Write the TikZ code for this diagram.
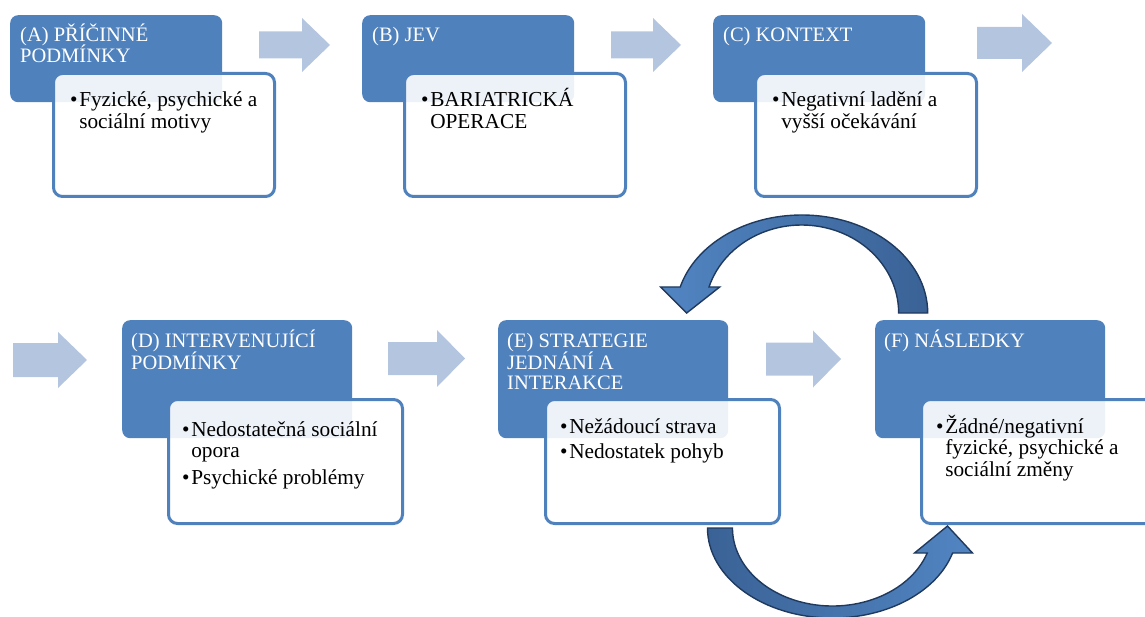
\documentclass[tikz,border=0pt]{standalone}
\usepackage{fontspec}
\setmainfont{Liberation Serif}
\usetikzlibrary{calc}

\definecolor{hdrblue}{HTML}{4F81BD}
\definecolor{flowfill}{HTML}{B4C5DF}
\definecolor{arcdark}{HTML}{3A6296}
\definecolor{arclight}{HTML}{5185C2}
\definecolor{arcline}{HTML}{1F3A5E}

% text block with fixed baselines; lines of a bullet broken by \\, bullets separated by \\[gap]
\newcommand\cardtext[1]{\begin{minipage}[t]{230pt}\lineskiplimit=-60pt\relax\raggedright #1\end{minipage}}
\newcommand\bul{\textbullet\hspace{1.6pt}}
\newcommand\ind{\hphantom{\textbullet}\hspace{1.6pt}}

% light block arrow: tail x, centre y, tip x, shaft half height, head half height, head length
\newcommand\flowarrow[6]{%
  \fill[flowfill] (#1,#2-#4) -- (#3-#6,#2-#4) -- (#3-#6,#2-#5) -- (#3,#2)
    -- (#3-#6,#2+#5) -- (#3-#6,#2+#4) -- (#1,#2+#4) -- cycle;}

\tikzset{
  hdr/.style={rectangle, rounded corners=8pt, fill=hdrblue, inner sep=0pt, anchor=north west},
  card/.style={rectangle, rounded corners=9pt, draw=hdrblue, line width=3pt,
    fill=white, fill opacity=0.9, inner sep=0pt, anchor=north west},
  tophdr/.style={hdr, minimum width=212pt, minimum height=87pt},
  topcard/.style={card, minimum width=221pt, minimum height=123pt},
  bothdr/.style={hdr, minimum width=230pt, minimum height=118pt},
  botcard/.style={card, minimum width=234pt, minimum height=124pt},
  hdrtext/.style={anchor=base west, inner sep=0pt, text=white, font=\fontsize{20.5}{21}\selectfont},
  bodytext/.style={anchor=base west, inner sep=0pt, text=black, font=\fontsize{21.3}{21.5}\selectfont},
  cyclearrow/.style={draw=arcline, line width=1.4pt, line join=miter},
}

\begin{document}
\begin{tikzpicture}[x=1pt, y=-1pt]
\useasboundingbox (0,0) rectangle (1145,617);

% ---- top row ----
\node[tophdr] (hA) at (10,15) {};
\node[topcard] (cA) at (52,72) {};
\node[tophdr] (hB) at (362,15) {};
\node[topcard] (cB) at (403,72) {};
\node[tophdr] (hC) at (713,15) {};
\node[topcard] (cC) at (754,72) {};

\node[hdrtext] (tA) at ($(hA.north west)+(10,27)$) {\cardtext{(A) PŘÍČINNÉ\\PODMÍNKY}};
\node[hdrtext] (tB) at ($(hB.north west)+(10,27)$) {\cardtext{(B) JEV}};
\node[hdrtext] (tC) at ($(hC.north west)+(10,27)$) {\cardtext{(C) KONTEXT}};

\node[bodytext] (bA) at ($(cA.north west)+(18,35)$) {\cardtext{\bul Fyzické, psychické a\\\ind sociální motivy}};
\node[bodytext] (bB) at ($(cB.north west)+(18,35)$) {\cardtext{\bul BARIATRICKÁ\\\ind OPERACE}};
\node[bodytext] (bC) at ($(cC.north west)+(18,35)$) {\cardtext{\bul Negativní ladění a\\\ind vyšší očekávání}};

\flowarrow{259}{45}{330}{13.5}{27}{28}
\flowarrow{611}{45}{681}{13.5}{27}{28}
\flowarrow{977}{43}{1052}{16}{29}{30}

% ---- bottom row ----
\flowarrow{13}{360}{87}{17}{28}{29}

\node[bothdr] (hD) at (122,320) {};
\node[botcard] (cD) at (167,398) {};
\node[bothdr] (hE) at (498,320) {};
\node[botcard] (cE) at (544,398) {};
\node[bothdr] (hF) at (875,320) {};
\node[botcard] (cF) at (920,398) {};

\node[hdrtext] (tD) at ($(hD.north west)+(9,28)$) {\cardtext{(D) INTERVENUJÍCÍ\\PODMÍNKY}};
\node[hdrtext] (tE) at ($(hE.north west)+(9,28)$) {\cardtext{(E) STRATEGIE\\JEDNÁNÍ A\\INTERAKCE}};
\node[hdrtext] (tF) at ($(hF.north west)+(9,28)$) {\cardtext{(F) NÁSLEDKY}};

\node[bodytext] (bD) at ($(cD.north west)+(15,38)$)
  {\cardtext{\bul Nedostatečná sociální\\\ind opora\\[5.5pt]\bul Psychické problémy}};
\node[bodytext] (bE) at ($(cE.north west)+(16,35)$)
  {\cardtext{\bul Nežádoucí strava\\[4pt]\bul Nedostatek pohyb}};
\node[bodytext] (bF) at ($(cF.north west)+(16,35)$)
  {\cardtext{\bul Žádné/negativní\\\ind fyzické, psychické a\\\ind sociální změny}};

\flowarrow{388}{358.5}{465}{16.5}{28.5}{28}
\flowarrow{766}{359}{841}{16.5}{28.5}{28}

% ---- feedback loop between E and F ----
% upper arrow: from F back to E
\coordinate (topc) at ($(hE.north east)!0.5!(hF.north west)+(0,-7)$);
\path[cyclearrow, left color=arclight, right color=arcdark, shift={(topc)}]
  (126,0) arc[start angle=0, end angle=-164.6, x radius=126, y radius=98]
  -- (-141,-26) -- (-115,0) -- (-82,-26) -- (-92.7,-26)
  arc[start angle=-162.8, end angle=0, x radius=97, y radius=88] -- cycle;

% lower arrow: from E to F
\coordinate (botc) at ($(cE.south east)!0.5!(cF.south west)+(-18,3)$);
\path[cyclearrow, left color=arcdark, right color=arclight, shift={(botc)}]
  (-125,0) arc[start angle=180, end angle=16.13, x radius=125, y radius=90]
  -- (140,25) -- (115,-2) -- (82,25) -- (94.7,25)
  arc[start angle=18.69, end angle=180, x radius=100, y radius=78] -- cycle;
\end{tikzpicture}
\end{document}
